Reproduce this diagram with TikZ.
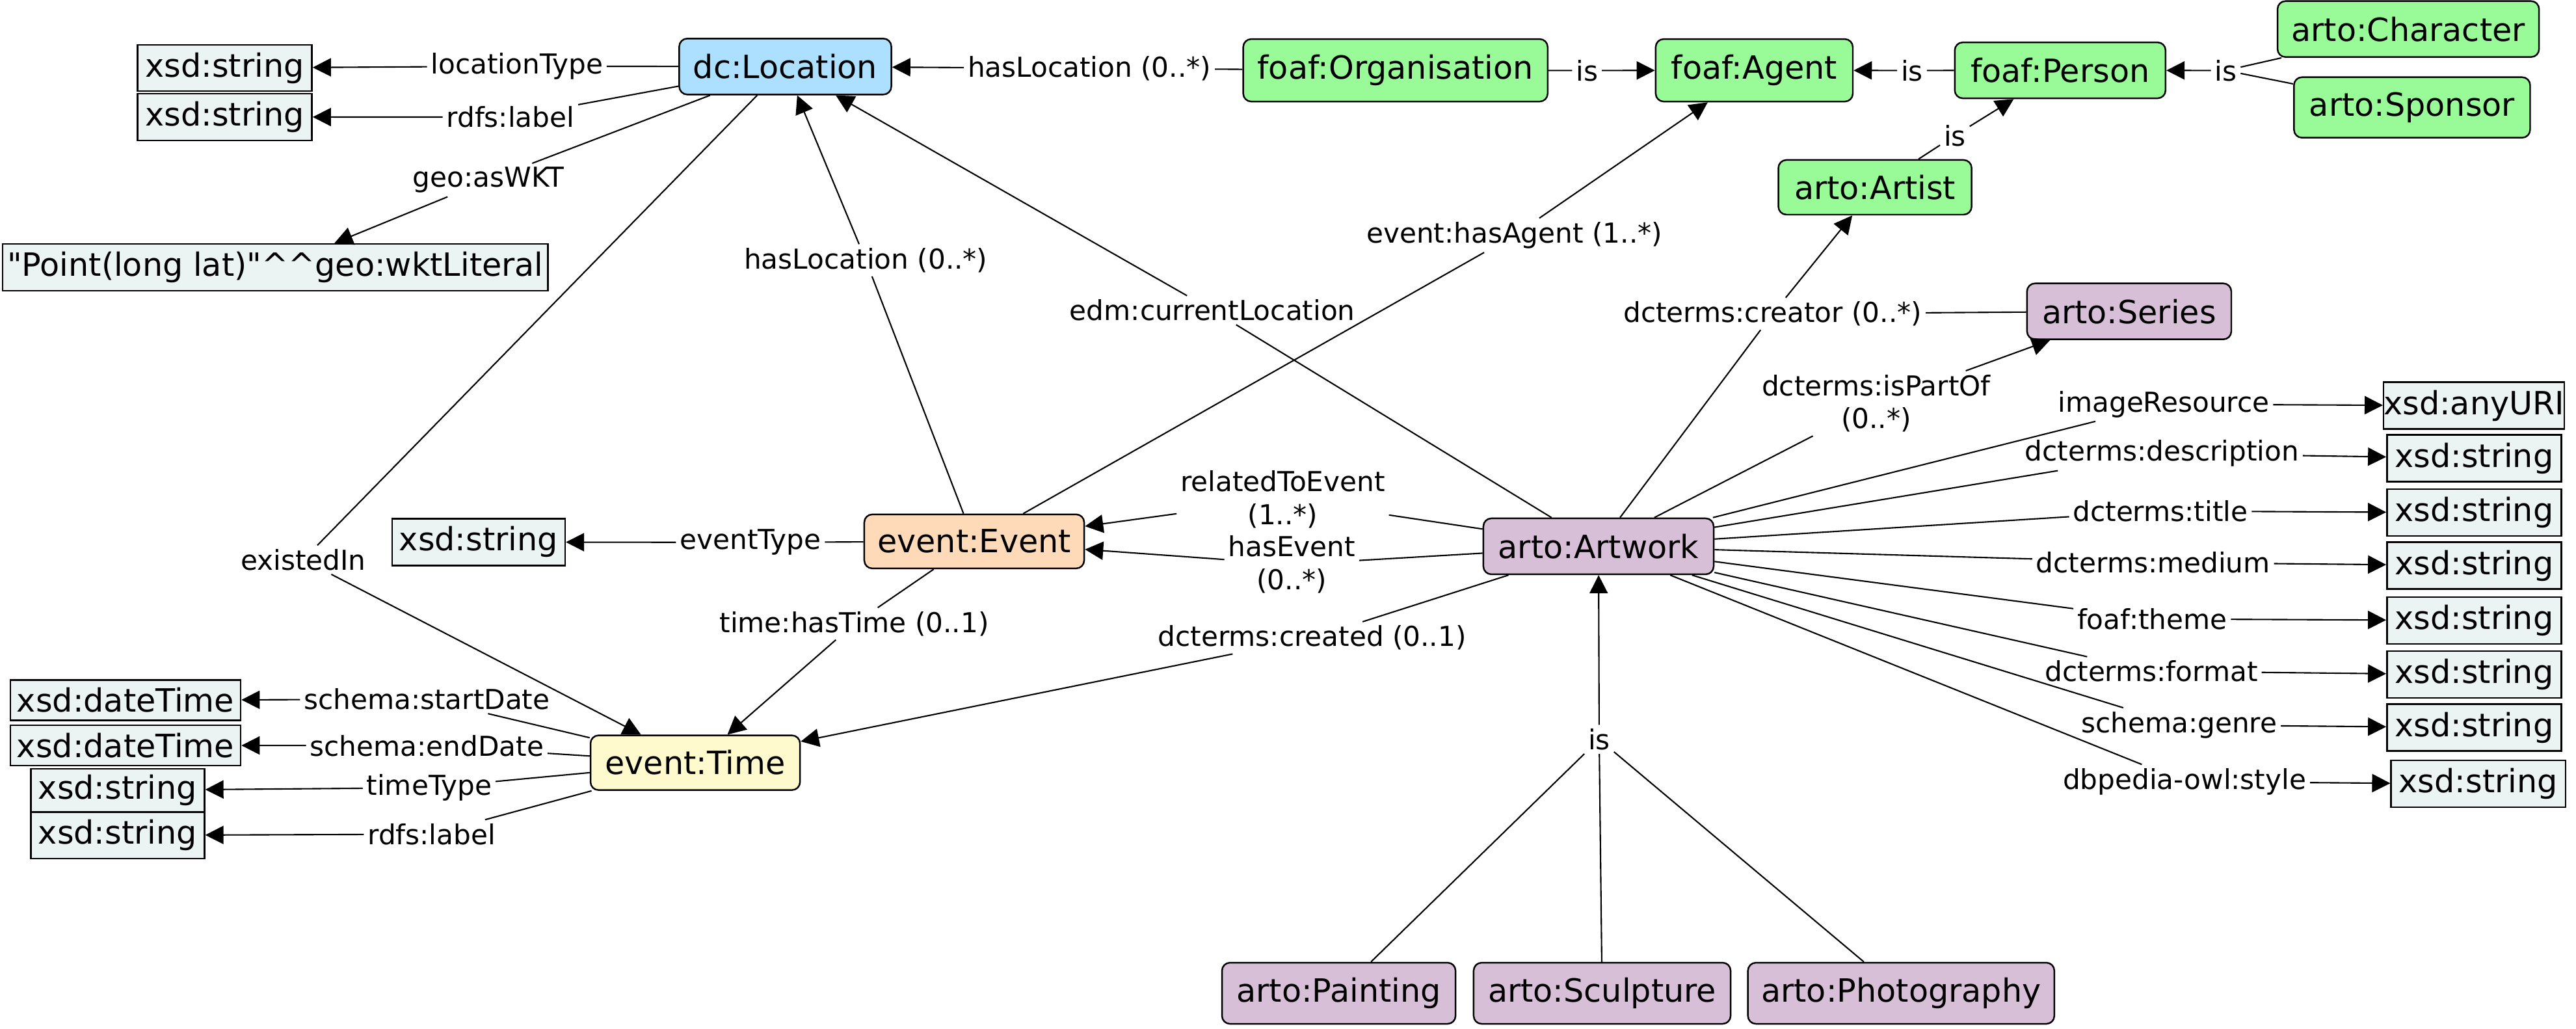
\documentclass[tikz,border=0pt]{standalone}
\usepackage{fontspec}
\setmainfont{DejaVu Sans}
\usetikzlibrary{arrows.meta}
\definecolor{locblue}{HTML}{ADDFFF}
\definecolor{agentgreen}{HTML}{98FB98}
\definecolor{artpurple}{HTML}{D8BFD8}
\definecolor{eventpeach}{HTML}{FFDAB9}
\definecolor{timeyellow}{HTML}{FFFACD}
\definecolor{litgrey}{HTML}{EBF3F3}
\tikzset{
  cls/.style={
    draw, rectangle, rounded corners=3.5pt, line width=0.7pt, inner sep=0pt,
    font=\fontsize{14}{16}\selectfont
  },
  lit/.style={
    draw, rectangle, fill=litgrey, line width=0.7pt, inner sep=0pt,
    font=\fontsize{14}{16}\selectfont
  },
  lbl/.style={
    inner sep=1.5pt, align=center, font=\fontsize{12}{14.4}\selectfont
  },
  link/.style={line width=0.6pt},
  arr/.style={link, -{Triangle[length=2.8mm,width=2.8mm]}}
}

\begin{document}
\begin{tikzpicture}[x=0.02526cm, y=-0.02526cm]
 \useasboundingbox (0,0) rectangle (1568,626);

 % classes
 \node[cls, fill=locblue, minimum width=3.26cm, minimum height=0.86cm] (loc) at (478,40.5) {dc:Location};
 \node[cls, fill=agentgreen, minimum width=4.68cm, minimum height=0.96cm] (org) at (849.4,42.8) {foaf:Organisation};
 \node[cls, fill=agentgreen, minimum width=3.03cm, minimum height=0.96cm] (agent) at (1067.8,42.8) {foaf:Agent};
 \node[cls, fill=agentgreen, minimum width=3.24cm, minimum height=0.86cm] (person) at (1254,42.8) {foaf:Person};
 \node[cls, fill=agentgreen, minimum width=4.02cm, minimum height=0.86cm] (character) at (1465.9,17.7) {arto:Character};
 \node[cls, fill=agentgreen, minimum width=3.63cm, minimum height=0.93cm] (sponsor) at (1468.2,65.4) {arto:Sponsor};
 \node[cls, fill=agentgreen, minimum width=2.97cm, minimum height=0.84cm] (artist) at (1141.3,114) {arto:Artist};
 \node[cls, fill=artpurple, minimum width=3.14cm, minimum height=0.86cm] (series) at (1296,189.5) {arto:Series};
 \node[cls, fill=artpurple, minimum width=3.54cm, minimum height=0.86cm] (artwork) at (973,332.5) {arto:Artwork};
 \node[cls, fill=eventpeach, minimum width=3.38cm, minimum height=0.83cm] (event) at (593,329.5) {event:Event};
 \node[cls, fill=timeyellow, minimum width=3.22cm, minimum height=0.84cm] (time) at (423.2,464.2) {event:Time};
 \node[cls, fill=artpurple, minimum width=3.59cm, minimum height=0.94cm] (painting) at (814.9,604.5) {arto:Painting};
 \node[cls, fill=artpurple, minimum width=3.95cm, minimum height=0.94cm] (sculpture) at (975.2,604.5) {arto:Sculpture};
 \node[cls, fill=artpurple, minimum width=4.71cm, minimum height=0.94cm] (photography) at (1157.2,604.5) {arto:Photography};

 % literals
 \node[lit, minimum width=2.68cm, minimum height=0.71cm] (loctype) at (136.8,41.4) {xsd:string};
 \node[lit, minimum width=2.68cm, minimum height=0.72cm] (loclabel) at (136.8,71.2) {xsd:string};
 \node[lit, minimum width=8.38cm, minimum height=0.72cm] (wkt) at (167.6,162.7) {\textquotedbl Point(long lat)\textquotedbl\textasciicircum\textasciicircum geo:wktLiteral};
 \node[lit, minimum width=2.66cm, minimum height=0.72cm] (evtype) at (291.3,329.9) {xsd:string};
 \node[lit, minimum width=3.54cm, minimum height=0.62cm] (start) at (76.4,426.2) {xsd:dateTime};
 \node[lit, minimum width=3.54cm, minimum height=0.62cm] (end) at (76.4,453.6) {xsd:dateTime};
 \node[lit, minimum width=2.67cm, minimum height=0.66cm] (ttype) at (71.6,481) {xsd:string};
 \node[lit, minimum width=2.67cm, minimum height=0.71cm] (tlabel) at (71.6,508.4) {xsd:string};

 % edge labels
 \node[lbl] (l-loctype) at (314.6,40.3) {locationType};
 \node[lbl] (l-loclabel) at (310.7,71.3) {rdfs:label};
 \node[lbl] (l-wkt) at (297.3,109.6) {geo:asWKT};
 \node[lbl] (l-existed) at (184.6,340.7) {existedIn};
 \node[lbl] (l-evloc) at (527,158.4) {hasLocation (0..*)};
 \node[lbl] (l-curloc) at (738,188.8) {edm:currentLocation};
 \node[lbl] (l-orgloc) at (663.1,41.6) {hasLocation (0..*)};
 \node[lbl] (is-org) at (966,42.9) {is};
 \node[lbl] (is-person) at (1163.8,42.9) {is};
 \node[lbl] (is-char) at (1354.8,42.9) {is};
 \node[lbl] (is-artist) at (1189.9,82.5) {is};
 \node[lbl] (l-creator) at (1079,191) {dcterms:creator (0..*)};
 \node[lbl] (l-partof) at (1142,245.5) {dcterms:isPartOf\\(0..*)};
 \node[lbl] (l-related) at (780.8,303.8) {relatedToEvent\\(1..*)};
 \node[lbl] (l-hasevent) at (786.3,343.5) {hasEvent\\(0..*)};
 \node[lbl] (l-created) at (798.7,388.2) {dcterms:created (0..1)};
 \node[lbl] (l-agent) at (921.8,143.2) {event:hasAgent (1..*)};
 \node[lbl] (l-hastime) at (520,379.6) {time:hasTime (0..1)};
 \node[lbl] (l-evtype) at (456.8,330.1) {eventType};
 \node[lbl] (l-start) at (259.8,425.5) {schema:startDate};
 \node[lbl] (l-end) at (259.8,453.8) {schema:endDate};
 \node[lbl] (l-ttype) at (261.2,479.4) {timeType};
 \node[lbl] (l-tlabel) at (262.7,507.7) {rdfs:label};
 \node[lbl] (is-artwork) at (973.4,450) {is};

 % edges
 \draw[arr] (loc) -- (l-loctype) -- (loctype);
 \draw[arr] (loc) -- (l-loclabel) -- (loclabel);
 \draw[arr] (loc) -- (l-wkt) -- (wkt);
 \draw[arr] (loc) -- (l-existed) -- (time);
 \draw[arr] (event) -- (l-evloc) -- (loc);
 \draw[arr] (artwork) -- (l-curloc) -- (loc);
 \draw[arr] (org) -- (l-orgloc) -- (loc);
 \draw[arr] (org) -- (is-org) -- (agent);
 \draw[arr] (person) -- (is-person) -- (agent);
 \draw[arr] (character) -- (is-char) -- (person);
 \draw[link] (sponsor) -- (is-char);
 \draw[arr] (artist) -- (is-artist) -- (person);
 \draw[arr] (artwork) -- (l-creator) -- (artist);
 \draw[link] (series) -- (l-creator);
 \draw[arr] (artwork) -- (l-partof) -- (series);
 \draw[arr] (artwork) -- (l-related) -- (event);
 \draw[arr] (artwork) -- (l-hasevent) -- (event);
 \draw[arr] (artwork) -- (l-created) -- (time);
 \draw[arr] (event) -- (l-agent) -- (agent);
 \draw[arr] (event) -- (l-hastime) -- (time);
 \draw[arr] (event) -- (l-evtype) -- (evtype);
 \draw[arr] (time) -- (l-start) -- (start);
 \draw[arr] (time) -- (l-end) -- (end);
 \draw[arr] (time) -- (l-ttype) -- (ttype);
 \draw[arr] (time) -- (l-tlabel) -- (tlabel);
 \draw[arr] (sculpture) -- (is-artwork) -- (artwork);
 \draw[link] (painting) -- (is-artwork);
 \draw[link] (photography) -- (is-artwork);

 % artwork properties
 \foreach \n/\lx/\ly/\tx/\ty/\t/\d in {
   img/1317/246/1505.9/246.9/imageResource/anyURI,
   desc/1316/276/1506/278.9/dcterms:description/string,
   title/1315/311/1506/312/dcterms:title/string,
   medium/1310.6/342.3/1506/344.2/dcterms:medium/string,
   theme/1310/376.7/1506/377.6/foaf:theme/string,
   format/1309.5/408.5/1506/410.6/dcterms:format/string,
   genre/1326.4/441.2/1506/442.8/schema:genre/string,
   style/1329.7/475.7/1508.5/477.1/dbpedia-owl:style/string} {
   \node[lit, minimum width=2.68cm, minimum height=0.72cm] (p-\n) at (\tx,\ty) {xsd:\d};
   \node[lbl] (l-\n) at (\lx,\ly) {\t};
   \draw[arr] (artwork) -- (l-\n) -- (p-\n);
 }
\end{tikzpicture}
\end{document}
